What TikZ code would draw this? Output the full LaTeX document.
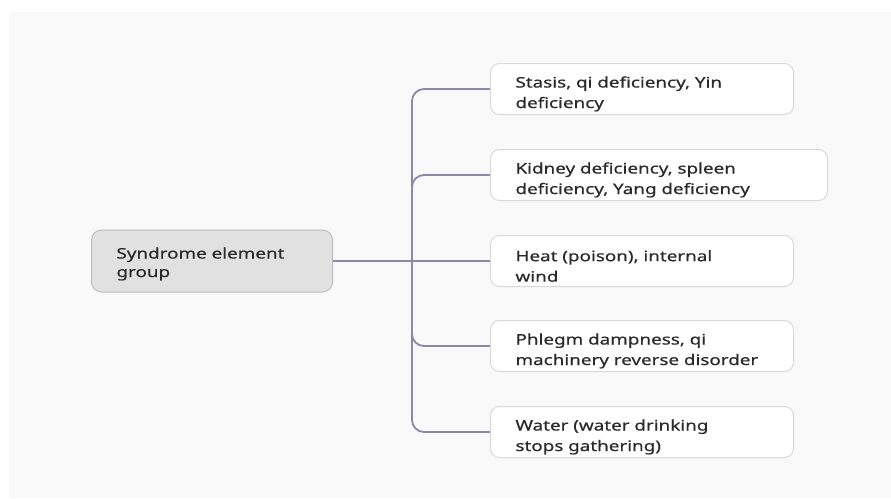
\documentclass[tikz,border=0pt]{standalone}
\usepackage{fontspec}
\setmainfont{Noto Sans}[FakeStretch=1.3, FakeBold=0.5, WordSpace=0.8]
\definecolor{panel}{HTML}{F9F9F9}
\definecolor{rootfill}{HTML}{E1E1E1}
\definecolor{rootline}{HTML}{BDBDBD}
\definecolor{leafline}{HTML}{D9D9D9}
\definecolor{wire}{HTML}{8C89A6}
\definecolor{ink}{HTML}{2A2A2A}
\tikzset{
  rootbox/.style={draw=rootline, fill=rootfill, line width=1pt, rounded corners=10pt,
    anchor=west, minimum width=241pt, minimum height=62pt, text width=191pt,
    inner xsep=25pt, inner ysep=0pt, align=left, text=ink,
    font=\fontsize{14.5}{18.5}\selectfont,
    execute at begin node={\leavevmode\rule{0pt}{17pt}}},
  leafbox/.style={draw=leafline, fill=white, line width=1pt, rounded corners=9pt,
    anchor=west, minimum width=303pt, minimum height=51pt, text width=253pt,
    inner xsep=25pt, inner ysep=0pt, align=left, text=ink,
    font=\fontsize{14.5}{20.5}\selectfont,
    execute at begin node={\leavevmode\rule{0pt}{21pt}}},
  wirepath/.style={draw=wire, line width=1.8pt, rounded corners=12pt},
}
\begin{document}
\begin{tikzpicture}[x=1pt, y=-1pt]
  % page and panel
  \fill[white] (0,0) rectangle (891,498);
  \fill[panel] (9,12) rectangle (891,498);
  \useasboundingbox (0,0) rectangle (891,498);

  % trunk position
  \coordinate (trunk) at (412,261);

  % root
  \node[rootbox] (root) at (91,261) {Syndrome element\\group};

  % leaves
  \node[leafbox] (l1) at (490,89) {Stasis, qi deficiency, Yin\\deficiency};
  \node[leafbox, minimum width=337pt, text width=287pt] (l2) at (490,175)
    {Kidney deficiency, spleen\\deficiency, Yang deficiency};
  \node[leafbox] (l3) at (490,261) {Heat (poison), internal\\wind};
  \node[leafbox] (l4) at (490,346) {Phlegm dampness, qi\\machinery reverse disorder};
  \node[leafbox] (l5) at (490,432) {Water (water drinking\\stops gathering)};

  % connectors: trunk with rounded ends, straight root link, curved side branches
  \draw[wirepath] (l1.west) -- (trunk |- l1.west) -- (trunk |- l5.west) -- (l5.west);
  \draw[wirepath] (root.east) -- (l3.west);
  \draw[wirepath] (trunk |- l3.west) -- (trunk |- l2.west) -- (l2.west);
  \draw[wirepath] (trunk |- l3.west) -- (trunk |- l4.west) -- (l4.west);
\end{tikzpicture}
\end{document}
